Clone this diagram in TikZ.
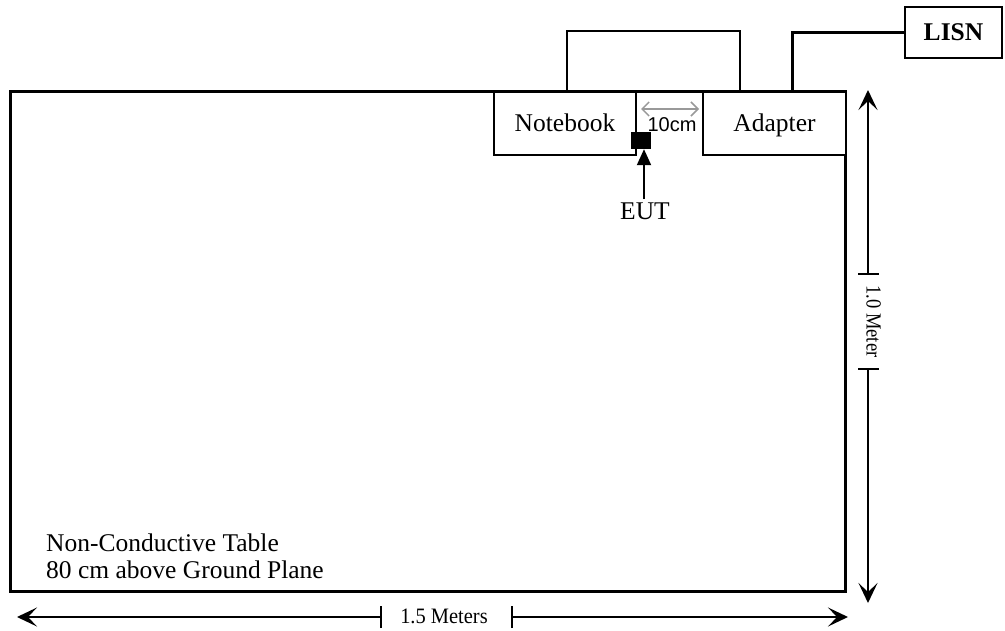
\documentclass[tikz,border=0pt]{standalone}
\usepackage{fontspec}
\setmainfont{Liberation Serif}
\newfontfamily\arialf{Liberation Sans}
\usetikzlibrary{arrows.meta}
\begin{document}
\begin{tikzpicture}[x=1pt,y=-1pt,
  lbl/.style={font=\fontsize{25.5}{28}\selectfont, inner sep=0pt},
  dimlbl/.style={font=\fontsize{22}{24}\selectfont, inner sep=0pt},
  box/.style={draw, line width=1.8pt, fill=white, inner sep=0pt, text height=20pt, text depth=5pt},
  dimline/.style={line width=1.6pt, -{Stealth[length=20pt,width=19pt,inset=9pt]}},
  tick/.style={line width=1.6pt},
  gaparrow/.style={draw=gray!80, line width=1.5pt, {Straight Barb[length=7pt,width=14pt]}-{Straight Barb[length=7pt,width=14pt]}},
  thincable/.style={line width=1.6pt},
  thickcable/.style={line width=3pt}
]
\useasboundingbox (0,0) rectangle (1005,630);

% table
\draw[line width=3pt] (10,91) rectangle (845,591);
\node[lbl, anchor=base west] (t1) at (46,551) {Non-Conductive Table};
\node[lbl, anchor=base west] (t2) at (46,578) {80 cm above Ground Plane};

% boxes
\node[box, lbl, minimum width=142pt, minimum height=63pt] (nb) at (565,123.5) {Notebook};
\node[box, lbl, minimum width=143pt, minimum height=63pt] (ad) at (774.5,123.5) {Adapter};
\node[lbl, draw, line width=1.6pt, font=\fontsize{25.5}{28}\selectfont\bfseries, minimum width=97pt, minimum height=51pt] (lisn) at (953.5,32.5) {LISN};

% cables
\draw[thincable] ([xshift=2pt]nb.north) -- ++(0,-60) -| ([xshift=-34.5pt]ad.north);
\draw[thickcable] ([xshift=17.5pt]ad.north) |- (lisn.west);

% EUT
\node[fill=black, inner sep=0pt, minimum width=20pt, minimum height=17pt] (eut) at (641,140.5) {};
\node[lbl, anchor=base] (eutl) at (645,219) {EUT};
\draw[line width=2pt, -{Triangle[length=16pt,width=14pt]}] (eutl.north -| 644,0) ++(0,-3) coordinate (ea) -- (ea |- eut.south);

% 10 cm gap
\coordinate (g1) at (641,109);
\coordinate (g2) at (699,109);
\draw[gaparrow] (g1) -- (g2);
\node[inner sep=0pt, anchor=base, font=\arialf\fontsize{20}{22}\selectfont] (gl) at (672,131) {10cm};

% vertical dimension
\coordinate (vt) at (868,90);
\coordinate (vb) at (868,603);
\coordinate (vk1) at (868,274);
\coordinate (vk2) at (868,369);
\draw[dimline] (vk1) -- (vt);
\draw[dimline] (vk2) -- (vb);
\draw[tick] ([xshift=-10pt]vk1) -- ([xshift=11pt]vk1);
\draw[tick] ([xshift=-10pt]vk2) -- ([xshift=11pt]vk2);
\node[inner sep=0pt, rotate=-90, font=\fontsize{21.5}{24}\selectfont] (vl) at (873.5,321.5) {\scalebox{0.86}[1]{1.0 Meter}};

% horizontal dimension
\coordinate (hl) at (17,617);
\coordinate (hr) at (848,617);
\coordinate (hk1) at (381,617);
\coordinate (hk2) at (512,617);
\draw[dimline] (hk1) -- (hl);
\draw[dimline] (hk2) -- (hr);
\draw[tick] ([yshift=-11pt]hk1) -- ([yshift=11pt]hk1);
\draw[tick] ([yshift=-11pt]hk2) -- ([yshift=11pt]hk2);
\node[dimlbl, xscale=0.93] (hlb) at (444,616) {1.5 Meters};
\end{tikzpicture}
\end{document}
